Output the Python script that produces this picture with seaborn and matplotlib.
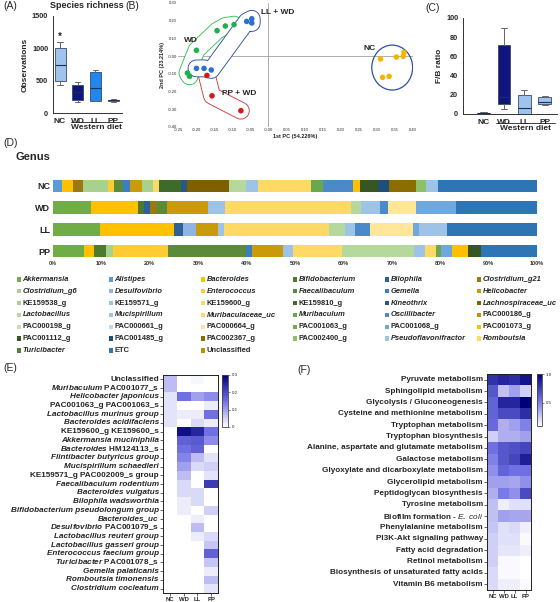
import numpy as np
import pandas as pd
import seaborn as sns
import matplotlib.pyplot as plt
import matplotlib.patheffects as pe
from matplotlib.patches import Ellipse, Rectangle
from matplotlib.colors import LinearSegmentedColormap

sns.set_style("white")
plt.rcParams['font.family'] = ['Liberation Sans', 'DejaVu Sans']
plt.rcParams['mathtext.fontset'] = 'custom'
plt.rcParams['mathtext.rm'] = 'Liberation Sans:bold'
plt.rcParams['mathtext.it'] = 'Liberation Sans:italic'
plt.rcParams['mathtext.bf'] = 'Liberation Sans:bold'
plt.rcParams['mathtext.bfit'] = 'Liberation Sans:italic:bold'

# ---------------- data ----------------
groups = ['NC', 'WD', 'LL', 'PP']

# (A) species richness, box stats
rich_lo = [440, 170, 180, 170]
rich_q1 = [495, 200, 190, 185]
rich_med = [750, 330, 380, 195]
rich_q3 = [1010, 440, 640, 205]
rich_hi = [1100, 480, 670, 220]

# (C) F/B ratio, box stats
fb_lo = [0.3, 5, 0, 9]
fb_q1 = [0.6, 10, 0.5, 10]
fb_med = [1, 18, 6, 13]
fb_q3 = [1.4, 72, 20, 18]
fb_hi = [1.8, 90, 25, 18.5]

# (B) PCA
wd_pc1 = [-0.218, -0.224, -0.199, -0.142, -0.119, -0.095]
wd_pc2 = [-0.114, -0.095, 0.033, 0.144, 0.170, 0.178]
ll_pc1 = [-0.199, -0.178, -0.158, -0.060, -0.046, -0.046]
ll_pc2 = [-0.069, -0.069, -0.078, 0.196, 0.211, 0.187]
pp_pc1 = [-0.170, -0.156, -0.076]
pp_pc2 = [-0.109, -0.224, -0.308]
nc_pc1 = [0.310, 0.316, 0.334, 0.354, 0.373, 0.375]
nc_pc2 = [-0.016, -0.120, -0.114, -0.005, -0.001, 0.021]

# (D) genus composition (%)
genera = ['Akkermansia', 'Alistipes', 'Bacteroides', 'Bifidobacterium', 'Bilophila', 'Clostridium_g21',
          'Clostridium_g6', 'Desulfovibrio', 'Enterococcus', 'Faecalibaculum', 'Gemella', 'Helicobacter',
          'KE159538_g', 'KE159571_g', 'KE159600_g', 'KE159810_g', 'Kineothrix', 'Lachnospiraceae_uc',
          'Lactobacillus', 'Mucispirillum', 'Muribaculaceae_uc', 'Muribaculum', 'Oscillibacter', 'PAC000186_g',
          'PAC000198_g', 'PAC000661_g', 'PAC000664_g', 'PAC001063_g', 'PAC001068_g', 'PAC001073_g',
          'PAC001112_g', 'PAC001485_g', 'PAC002367_g', 'PAC002400_g', 'Pseudoflavonifractor', 'Romboutsia',
          'Turicibacter', 'ETC', 'Unclassified']
genus_colors = ['#70AD47', '#5B9BD5', '#FFC000', '#4E7A2E', '#2E6096', '#9A7A10',
                '#A9D18E', '#8DB4E2', '#FFCD33', '#5A8A3A', '#3A7FC4', '#C99A0A',
                '#A9D18E', '#9DC3E6', '#FFD966', '#3F6B2A', '#2A5785', '#7F6000',
                '#B5D99C', '#9DC3E6', '#FFD966', '#6AA84F', '#4A8AC8', '#BF9000',
                '#C5E0B4', '#BDD7EE', '#FFE699', '#70AD47', '#6FA8DC', '#FFC000',
                '#375623', '#1F4E79', '#8C6D00', '#8CC168', '#9DC3E6', '#FFD966',
                '#548235', '#2E75B6', '#BF9000']
nc_pct = {'Alistipes': 1.8, 'Bacteroides': 2.3, 'Clostridium_g21': 2.2, 'Clostridium_g6': 5.1,
          'Enterococcus': 1.3, 'Faecalibaculum': 1.8, 'Gemella': 1.4, 'Helicobacter': 2.4,
          'KE159538_g': 2.3, 'KE159600_g': 1.2, 'KE159810_g': 4.7, 'Kineothrix': 1.1,
          'Lachnospiraceae_uc': 8.8, 'Lactobacillus': 3.4, 'Mucispirillum': 2.5, 'Muribaculaceae_uc': 11.0,
          'Muribaculum': 2.5, 'Oscillibacter': 6.1, 'PAC001073_g': 1.6, 'PAC001112_g': 3.6,
          'PAC001485_g': 2.4, 'PAC002367_g': 5.4, 'PAC002400_g': 2.1, 'Pseudoflavonifractor': 2.5,
          'ETC': 20.5}
wd_pct = {'Akkermansia': 7.8, 'Bacteroides': 9.7, 'Bifidobacterium': 1.2, 'Bilophila': 1.4,
          'Clostridium_g21': 1.4, 'Faecalibaculum': 2.1, 'Helicobacter': 8.5, 'KE159571_g': 3.5,
          'KE159600_g': 26.0, 'Lactobacillus': 2.0, 'Mucispirillum': 3.9, 'Oscillibacter': 1.8,
          'PAC000664_g': 5.6, 'PAC001068_g': 8.3, 'ETC': 16.8}
ll_pct = {'Akkermansia': 9.7, 'Bacteroides': 15.2, 'Bilophila': 2.0, 'Desulfovibrio': 2.7,
          'Helicobacter': 4.5, 'KE159571_g': 1.3, 'KE159600_g': 21.6, 'Lactobacillus': 3.4,
          'Mucispirillum': 2.0, 'Oscillibacter': 3.0, 'PAC000664_g': 8.9, 'PAC001068_g': 1.3,
          'Pseudoflavonifractor': 5.9, 'ETC': 18.5}
pp_pct = {'Akkermansia': 6.5, 'Bacteroides': 2.0, 'Bifidobacterium': 2.5, 'Clostridium_g6': 1.3,
          'Enterococcus': 11.5, 'Faecalibaculum': 16.1, 'Gemella': 1.2, 'Helicobacter': 6.5,
          'KE159571_g': 1.9, 'KE159600_g': 10.2, 'Lactobacillus': 14.8, 'Mucispirillum': 2.3,
          'Muribaculaceae_uc': 2.3, 'Muribaculum': 1.0, 'PAC001068_g': 2.4, 'PAC001073_g': 3.3,
          'PAC001112_g': 2.6, 'ETC': 11.6}

# (E) species heatmap
e_labels = ['Unclassified', r'$\mathbfit{Muribaculum}$ PAC001077_s', 'Helicobacter japonicus',
            'PAC001063_g PAC001063_s', 'Lactobacillus murinus group', 'Bacteroides acidifaciens',
            'KE159600_g KE159600_s', 'Akkermansia muciniphila', r'$\mathbfit{Bacteroides}$ HM124113_s',
            'Flintibacter butyricus group', 'Mucispirillum schaedleri', 'KE159571_g PAC002009_s group',
            'Faecalibaculum rodentium', 'Bacteroides vulgatus', 'Bilophila wadsworthia',
            'Bifidobacterium pseudolongum group', 'Bacteroides_uc', r'$\mathbfit{Desulfovibrio}$ PAC001079_s',
            'Lactobacillus reuteri group', 'Lactobacillus gasseri group', 'Enterococcus faecium group',
            r'$\mathbfit{Turicibacter}$ PAC001078_s', 'Gemella palaticanis', 'Romboutsia timonensis',
            'Clostridium cocleatum']
e_nc = [0.07, 0.07, 0.03, 0.03, 0.03, 0.03, 0, 0, 0, 0, 0, 0, 0, 0, 0, 0, 0, 0, 0, 0, 0, 0, 0, 0, 0]
e_wd = [0, 0, 0.15, 0, 0.02, 0, 0.28, 0.17, 0.15, 0.13, 0.10, 0.07, 0.04, 0.04, 0.02, 0.02, 0, 0, 0, 0, 0, 0, 0, 0, 0]
e_ll = [0.01, 0, 0.10, 0, 0.02, 0.04, 0.25, 0.18, 0.17, 0.07, 0.04, 0, 0, 0.04, 0.04, 0, 0.02, 0.07, 0.02, 0, 0, 0, 0, 0, 0]
e_pp = [0, 0, 0.12, 0.02, 0.15, 0.02, 0.15, 0.12, 0, 0.03, 0.05, 0.03, 0.22, 0, 0, 0.05, 0, 0, 0.04, 0.06, 0.17, 0.06, 0.02, 0.07, 0.03]

# (F) pathway heatmap
f_labels = ['Pyruvate metabolism', 'Sphingolipid metabolism', 'Glycolysis / Gluconeogenesis',
            'Cysteine and methionine metabolism', 'Tryptophan metabolism', 'Tryptophan biosynthesis',
            'Alanine, aspartate and glutamate metabolism', 'Galactose metabolism',
            'Glyoxylate and dicarboxylate metabolism', 'Glycerolipid metabolism', 'Peptidoglycan biosynthesis',
            'Tyrosine metabolism', r'Biofilm formation - $\mathit{E.\ coli}$', 'Phenylalanine metabolism',
            'PI3K-Akt signaling pathway', 'Fatty acid degradation', 'Retinol metabolism',
            'Biosynthesis of unsaturated fatty acids', 'Vitamin B6 metabolism']
f_nc = [0.80, 0.65, 0.60, 0.60, 0.58, 0.25, 0.55, 0.50, 0.45, 0.40, 0.35, 0.30, 0.30, 0.28, 0.25, 0.25, 0.25, 0.22, 0.22]
f_wd = [0.85, 0.30, 0.85, 0.70, 0.35, 0.35, 0.65, 0.65, 0.60, 0.40, 0.52, 0.15, 0.40, 0.20, 0.20, 0.18, 0.12, 0.12, 0.15]
f_ll = [0.82, 0.40, 0.85, 0.70, 0.40, 0.35, 0.68, 0.72, 0.55, 0.38, 0.45, 0.20, 0.38, 0.22, 0.20, 0.18, 0.12, 0.12, 0.15]
f_pp = [0.92, 0.25, 1.00, 0.82, 0.50, 0.40, 0.72, 0.88, 0.55, 0.45, 0.70, 0.20, 0.38, 0.15, 0.12, 0.15, 0.05, 0.10, 0.12]

# ---------------- figure ----------------
W, H = 560, 602
fig = plt.figure(figsize=(W / 100, H / 100), dpi=100)


def box(l, t, r, b):
    return [l / W, 1 - b / H, (r - l) / W, (b - t) / H]


def ftext(x, y, s, **kw):
    fig.text(x / W, 1 - y / H, s, **kw)


def draw_box(ax, lo, q1, med, q3, hi, colors):
    stats = [dict(whislo=a, q1=b, med=c, q3=d, whishi=e) for a, b, c, d, e in zip(lo, q1, med, q3, hi)]
    bp = ax.bxp(stats, positions=range(len(stats)), widths=0.62, patch_artist=True, showfliers=False,
                capwidths=0.3, boxprops=dict(lw=0.6, edgecolor='#3a4a66'),
                whiskerprops=dict(lw=0.7, color='#666666'), capprops=dict(lw=0.7, color='#666666'),
                medianprops=dict(lw=0.8, color='#1f2f4f'))
    for patch, c in zip(bp['boxes'], colors):
        patch.set_facecolor(c)
    sns.despine(ax=ax)
    ax.set_xticks(range(len(groups)))
    ax.set_xticklabels(groups, fontsize=6, fontweight='bold')
    ax.tick_params(length=2, width=0.6, pad=1.5)
    for s in ['left', 'bottom']:
        ax.spines[s].set_linewidth(0.7)
        ax.spines[s].set_color('#333333')
    tr = ax.get_xaxis_transform()
    ax.plot([0.6, 3.5], [-0.095, -0.095], transform=tr, clip_on=False, color='#222222', lw=0.6)
    ax.text(2.05, -0.15, 'Western diet', transform=tr, ha='center', va='center', fontsize=6, fontweight='bold')


# (A)
ftext(3, 6, '(A)', fontsize=7.5, va='center')
ftext(87, 6, 'Species richness', fontsize=6.5, fontweight='bold', ha='center', va='center')
axA = fig.add_axes(box(53, 16, 122, 113))
draw_box(axA, rich_lo, rich_q1, rich_med, rich_q3, rich_hi, ['#9DC3EE', '#10147E', '#1E88F0', '#A9C9EE'])
axA.set_xlim(-0.4, 3.5)
axA.set_ylim(0, 1500)
axA.set_yticks([0, 500, 1000, 1500])
axA.set_yticklabels(['0', '500', '1000', '1500'], fontsize=5.2, fontweight='bold')
axA.set_ylabel('Observations', fontsize=6, fontweight='bold', labelpad=2)
axA.text(0, 1170, '*', ha='center', va='center', fontsize=7, fontweight='bold')

# (C)
ftext(425, 8, '(C)', fontsize=7.5, va='center')
axC = fig.add_axes(box(463, 18, 557, 114))
draw_box(axC, fb_lo, fb_q1, fb_med, fb_q3, fb_hi, ['#222222', '#10147E', '#9DC3EE', '#9DC3EE'])
axC.set_xlim(-1.0, 3.6)
axC.set_ylim(0, 100)
axC.set_yticks([0, 20, 40, 60, 80, 100])
axC.set_yticklabels(['0', '20', '40', '60', '80', '100'], fontsize=5.2, fontweight='bold')
axC.set_ylabel('F/B ratio', fontsize=6, fontweight='bold', labelpad=2)

# (B) PCA
ftext(125, 6, '(B)', fontsize=7.5, va='center')
axB = fig.add_axes(box(178, 3, 413, 127))
pca = pd.DataFrame({
    'pc1': wd_pc1 + ll_pc1 + pp_pc1 + nc_pc1,
    'pc2': wd_pc2 + ll_pc2 + pp_pc2 + nc_pc2,
    'group': ['WD'] * len(wd_pc1) + ['LL'] * len(ll_pc1) + ['PP'] * len(pp_pc1) + ['NC'] * len(nc_pc1),
})
outline = {'WD': '#35C24F', 'PP': '#D63A3A', 'LL': '#2F4FA0'}
for g, c in outline.items():
    sub = pca[pca.group == g]
    axB.plot(sub.pc1, sub.pc2, color='white', lw=11.5, solid_capstyle='round', solid_joinstyle='round',
             path_effects=[pe.Stroke(linewidth=12.8, foreground=c), pe.Normal()], zorder=1)
nc = pca[pca.group == 'NC']
cx = (nc.pc1.max() + nc.pc1.min()) / 2
cy = (nc.pc2.max() + nc.pc2.min()) / 2
axB.add_patch(Ellipse((cx, cy - 0.015), nc.pc1.max() - nc.pc1.min() + 0.048,
                      (nc.pc2.max() - nc.pc2.min()) * 1.8, fill=False, ec='#2F4F9F', lw=0.9, zorder=1))
sns.scatterplot(data=pca, x='pc1', y='pc2', hue='group', ax=axB, s=16, edgecolor='none', legend=False,
                palette={'WD': '#1DB04B', 'LL': '#2E6FD0', 'PP': '#D01A1A', 'NC': '#F5B400'}, zorder=3)
axB.axhline(0, color='#a0a0a0', lw=0.6, zorder=0)
axB.axvline(0, color='#a0a0a0', lw=0.6, zorder=0)
axB.set_xlim(-0.25, 0.40)
axB.set_ylim(-0.40, 0.30)
xt = np.round(np.arange(-0.25, 0.401, 0.05), 2)
yt = np.round(np.arange(-0.40, 0.301, 0.10), 2)
axB.set_xticks(xt)
axB.set_xticklabels(['%.2f' % v for v in xt], fontsize=3)
axB.set_yticks(yt)
axB.set_yticklabels(['%.2f' % v for v in yt], fontsize=3)
axB.tick_params(length=0, pad=1)
for s in axB.spines.values():
    s.set_visible(False)
axB.set_xlabel('1st PC (54.226%)', fontsize=4, fontweight='bold', labelpad=1.5)
axB.set_ylabel('2nd PC (23.214%)', fontsize=4, fontweight='bold', labelpad=1.5)
axB.text(-0.215, 0.09, 'WD', fontsize=6, fontweight='bold', ha='center', va='center')
axB.text(0.027, 0.248, 'LL + WD', fontsize=6, fontweight='bold', ha='center', va='center')
axB.text(0.28, 0.045, 'NC', fontsize=6, fontweight='bold', ha='center', va='center')
axB.text(-0.08, -0.21, 'PP + WD', fontsize=6, fontweight='bold', ha='center', va='center')

# (D) stacked bars
ftext(3, 143, '(D)', fontsize=7.5, va='center')
ftext(15, 157, 'Genus', fontsize=8, fontweight='bold', va='center')
comp = pd.DataFrame([nc_pct, wd_pct, ll_pct, pp_pct], index=groups).reindex(columns=genera).fillna(0)
axD = fig.add_axes(box(53, 176, 537, 258))
comp.plot.barh(stacked=True, ax=axD, color=genus_colors, width=0.58, legend=False, linewidth=0)
axD.set_ylim(3.32, -0.46)
axD.set_xlim(0, 100)
axD.set_xticks(range(0, 101, 10))
axD.set_xticklabels(['%d%%' % v for v in range(0, 101, 10)], fontsize=4, fontweight='bold', color='#333333')
axD.set_yticklabels(groups, fontsize=6.5, fontweight='bold')
axD.set_ylabel('')
axD.tick_params(length=0, pad=2)
for s in axD.spines.values():
    s.set_visible(False)

# legend of (D), drawn row by row
for i, (g, c) in enumerate(zip(genera, genus_colors)):
    col, row = i % 6, i // 6
    x = 17 + 92 * col
    y = 279.5 + 11.8 * row
    fig.patches.append(Rectangle(((x) / W, 1 - (y + 2.2) / H), 4.3 / W, 4.3 / H,
                                 transform=fig.transFigure, facecolor=c, edgecolor='none'))
    ital = not g.startswith(('KE', 'PAC', 'ETC', 'Uncl'))
    ftext(x + 5.5, y, g, fontsize=5.4, fontweight='bold', style='italic' if ital else 'normal', va='center')

# heatmaps
cmap = LinearSegmentedColormap.from_list('wb', ['#FFFFFF', '#7070E4', '#00007A'])


def finish_heat(ax, cbar_ax, ticks, ticklabels, size):
    ax.set_ylabel('')
    ax.set_xlabel('')
    for s in ax.spines.values():
        s.set_visible(True)
        s.set_linewidth(0.7)
        s.set_color('#222222')
    ax.tick_params(axis='y', labelsize=size, length=2, width=0.5, pad=1, left=True)
    ax.tick_params(axis='x', labelsize=4.3, length=2, width=0.5, pad=1, bottom=True, rotation=0)
    for t in ax.get_xticklabels():
        t.set_fontweight('bold')
    for t in ax.get_yticklabels():
        t.set_fontweight('bold')
    cb = ax.collections[0].colorbar
    cb.outline.set_linewidth(0.6)
    cb.outline.set_edgecolor('#444444')
    cb.set_ticks(ticks)
    cb.set_ticklabels(ticklabels)
    cbar_ax.tick_params(labelsize=3.2, length=1.5, width=0.4, pad=1)


ftext(3, 368, '(E)', fontsize=7.5, va='center')
heat_e = pd.DataFrame({'NC': e_nc, 'WD': e_wd, 'LL': e_ll, 'PP': e_pp}, index=e_labels)
axE = fig.add_axes(box(163, 375, 218, 593))
caxE = fig.add_axes(box(222, 375, 228, 427))
sns.heatmap(heat_e, ax=axE, cbar_ax=caxE, cmap=cmap, vmin=0, vmax=0.3, xticklabels=True, yticklabels=True)
finish_heat(axE, caxE, [0, 0.1, 0.2, 0.3], ['0', '0.1', '0.2', '0.3'], 5.9)
for t in axE.get_yticklabels():
    s = t.get_text()
    if '$' not in s and not s.startswith(('Uncl', 'PAC', 'KE')):
        t.set_fontstyle('italic')

ftext(297, 370, '(F)', fontsize=7.5, va='center')
heat_f = pd.DataFrame({'NC': f_nc, 'WD': f_wd, 'LL': f_ll, 'PP': f_pp}, index=f_labels)
axF = fig.add_axes(box(487, 374, 531, 590))
caxF = fig.add_axes(box(537, 374, 542, 426))
sns.heatmap(heat_f, ax=axF, cbar_ax=caxF, cmap=cmap, vmin=0.1, vmax=1.0, xticklabels=True, yticklabels=True)
finish_heat(axF, caxF, [0.5, 1.0], ['0.5', '1.0'], 5.9)

fig.savefig('out.png', dpi=100)
